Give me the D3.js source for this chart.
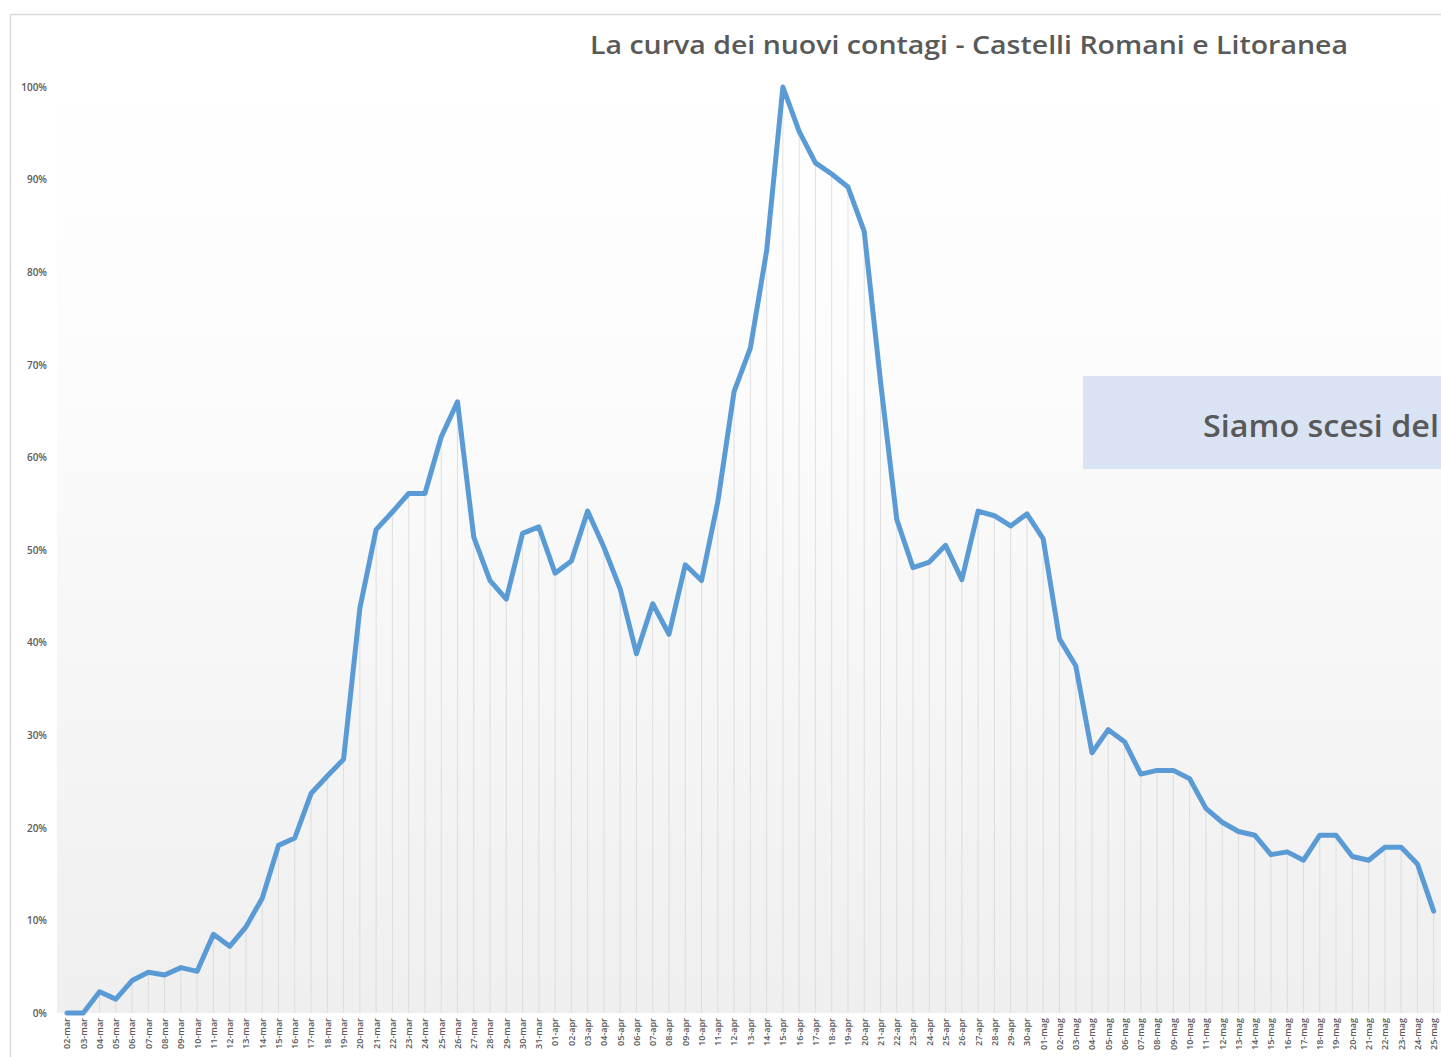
<!DOCTYPE html>
<html>
<head>
<meta charset="utf-8">
<script src="https://cdn.jsdelivr.net/npm/d3@7"></script>
<style>
html,body{margin:0;padding:0;background:#fff;overflow:hidden;}
svg{display:block;}
</style>
</head>
<body>
<svg id="chart" width="1441" height="1057"></svg>
<script>
const dates = [
"02-mar","03-mar","04-mar","05-mar","06-mar","07-mar","08-mar","09-mar","10-mar","11-mar",
"12-mar","13-mar","14-mar","15-mar","16-mar","17-mar","18-mar","19-mar","20-mar","21-mar",
"22-mar","23-mar","24-mar","25-mar","26-mar","27-mar","28-mar","29-mar","30-mar","31-mar",
"01-apr","02-apr","03-apr","04-apr","05-apr","06-apr","07-apr","08-apr","09-apr","10-apr",
"11-apr","12-apr","13-apr","14-apr","15-apr","16-apr","17-apr","18-apr","19-apr","20-apr",
"21-apr","22-apr","23-apr","24-apr","25-apr","26-apr","27-apr","28-apr","29-apr","30-apr",
"01-mag","02-mag","03-mag","04-mag","05-mag","06-mag","07-mag","08-mag","09-mag","10-mag",
"11-mag","12-mag","13-mag","14-mag","15-mag","16-mag","17-mag","18-mag","19-mag","20-mag",
"21-mag","22-mag","23-mag","24-mag","25-mag"
];
const values = [
0,0,2.3,1.5,3.5,4.4,4.1,4.9,4.5,8.5,
7.2,9.3,12.4,18.1,18.9,23.7,25.6,27.4,43.7,52.2,
54.1,56.1,56.1,62.2,66.0,51.4,46.7,44.7,51.8,52.5,
47.5,48.8,54.2,50.3,45.8,38.8,44.2,40.9,48.4,46.7,
55.2,67.1,71.8,82.3,100,95.2,91.8,90.6,89.2,84.4,
68.2,53.3,48.1,48.7,50.5,46.8,54.2,53.7,52.6,53.9,
51.2,40.4,37.5,28.1,30.6,29.3,25.8,26.2,26.2,25.3,
22.1,20.6,19.6,19.2,17.1,17.4,16.5,19.2,19.2,16.9,
16.5,17.9,17.9,16.1,11.0
];
const yTicks = [0,10,20,30,40,50,60,70,80,90,100];
const titleText = "La curva dei nuovi contagi - Castelli Romani e Litoranea";
const noteText = "Siamo scesi del";

const svg = d3.select("#chart");
const data = dates.map((d,i)=>({date:d, value:values[i]}));

const x = d3.scalePoint().domain(dates).range([67, 67 + 16.27*(dates.length-1)]);
const y = d3.scaleLinear().domain([0,100]).range([1013, 87]);

const defs = svg.append("defs");
const grad = defs.append("linearGradient").attr("id","bg").attr("x1",0).attr("y1",0).attr("x2",0).attr("y2",1);
grad.append("stop").attr("offset","0%").attr("stop-color","#ffffff");
grad.append("stop").attr("offset","30%").attr("stop-color","#fcfcfc");
grad.append("stop").attr("offset","100%").attr("stop-color","#efefef");

// outer frame
svg.append("rect").attr("x",10.5).attr("y",14.5).attr("width",1500).attr("height",1100)
  .attr("fill","#ffffff").attr("stroke","#d9d9d9").attr("stroke-width",1.5);

// plot background
svg.append("rect").attr("x",57).attr("y",y(100)-10).attr("width",1400).attr("height",y(0)-y(100)+10)
  .attr("fill","url(#bg)");

// drop lines
svg.append("g").selectAll("line").data(data).join("line")
  .attr("x1",d=>x(d.date)).attr("x2",d=>x(d.date))
  .attr("y1",d=>y(d.value)).attr("y2",y(0))
  .attr("stroke","#d4d4d4").attr("stroke-opacity",0.7).attr("stroke-width",1);

// y axis
const yAxis = d3.axisLeft(y).tickValues(yTicks).tickFormat(d=>d+"%").tickSize(0).tickPadding(0);
const gy = svg.append("g").attr("transform","translate(47,0)").call(yAxis);
gy.select(".domain").remove();
gy.selectAll("text").attr("fill","#595959").attr("font-family","'Open Sans', sans-serif")
  .attr("font-size",10).attr("font-weight",600);

// x axis
const xAxis = d3.axisBottom(x).tickSize(0).tickPadding(0);
const gx = svg.append("g").attr("transform",`translate(0,${y(0)})`).call(xAxis);
gx.select(".domain").remove();
gx.selectAll("text")
  .attr("fill","#595959").attr("font-family","'Open Sans', sans-serif")
  .attr("font-size",9).attr("font-weight",600)
  .attr("text-anchor","end").attr("dy","0.32em")
  .attr("transform","translate(0,5) rotate(-90)")
  .attr("x",0).attr("y",0);

// line
const line = d3.line().x(d=>x(d.date)).y(d=>y(d.value));
svg.append("path").datum(data).attr("d",line)
  .attr("fill","none").attr("stroke","#5b9bd5").attr("stroke-width",5)
  .attr("stroke-linejoin","round").attr("stroke-linecap","round");

// title
svg.append("text").attr("x",969).attr("y",54).attr("text-anchor","middle")
  .attr("font-family","'Open Sans', sans-serif").attr("font-weight",600).attr("font-size",25)
  .attr("fill","#595959").attr("textLength",758).attr("lengthAdjust","spacingAndGlyphs")
  .text(titleText);

// annotation box
svg.append("rect").attr("x",1083).attr("y",376).attr("width",400).attr("height",93).attr("fill","#dae3f3");
svg.append("text").attr("x",1203).attr("y",437)
  .attr("font-family","'Open Sans', sans-serif").attr("font-weight",600).attr("font-size",31)
  .attr("fill","#595959").attr("textLength",236).attr("lengthAdjust","spacingAndGlyphs")
  .text(noteText);
</script>
</body>
</html>
